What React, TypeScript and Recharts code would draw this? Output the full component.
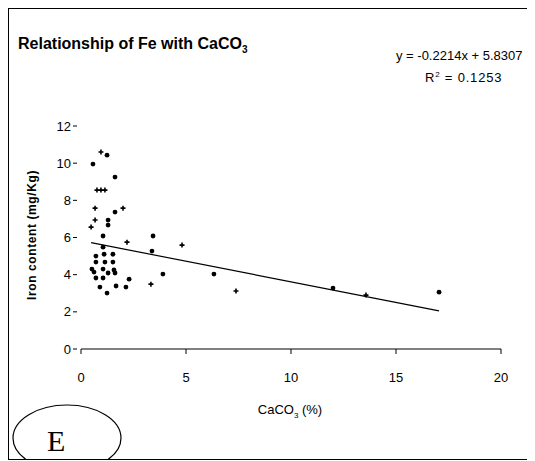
import React from "react";
import { ScatterChart, Scatter, XAxis, YAxis } from "recharts";

// CaCO3 (%) vs Fe (mg/Kg)
const dotX = [1.24, 0.57, 1.62, 1.62, 1.29, 1.29, 1.05, 3.43, 1.05, 3.38, 0.71, 1.1, 1.52, 1.14, 1.52, 0.71, 0.52, 0.62, 1.05, 1.57, 1.29, 1.62, 0.71, 1.05, 2.29, 0.9, 1.24, 1.67, 2.14, 3.9, 6.33, 12.0, 17.05];
const dotY = [10.43, 9.95, 9.25, 7.37, 6.94, 6.67, 6.08, 6.08, 5.48, 5.27, 5.0, 5.1, 5.1, 4.68, 4.68, 4.68, 4.3, 4.14, 4.3, 4.25, 4.09, 4.09, 3.82, 3.82, 3.76, 3.33, 3.01, 3.39, 3.33, 4.03, 4.03, 3.28, 3.06];
const plusX = [0.95, 0.76, 0.95, 1.14, 0.67, 2.0, 0.67, 0.48, 2.19, 4.81, 3.33, 7.38, 13.57];
const plusY = [10.6, 8.55, 8.55, 8.55, 7.58, 7.58, 6.94, 6.56, 5.75, 5.59, 3.49, 3.12, 2.9];

const xTicks = [0, 5, 10, 15, 20];
const yTicks = [0, 2, 4, 6, 8, 10, 12];

// linear trend from the chart: y = -0.2214x + 5.8307
const slope = -0.2214;
const intercept = 5.8307;

const dots = dotX.map((x, i) => ({ x, y: dotY[i] }));
const pluses = plusX.map((x, i) => ({ x, y: plusY[i] }));
const allX = [...dotX, ...plusX];
const trend = [Math.min(...allX), Math.max(...allX)].map((x) => ({ x, y: slope * x + intercept }));

const FONT = "'Liberation Sans', Arial, sans-serif";

const DotShape = (p: any) => <circle cx={p.cx} cy={p.cy} r={2.4} fill="#000" />;
const PlusShape = (p: any) => (
  <path
    d={`M${p.cx - 2.5},${p.cy}H${p.cx + 2.5}M${p.cx},${p.cy - 2.5}V${p.cy + 2.5}`}
    stroke="#000"
    strokeWidth={1.6}
  />
);

const YTick = (p: any) => {
  const { x, y, payload } = p;
  return (
    <g>
      <text x={x - 10} y={y} dy="0.35em" textAnchor="end" fontSize={13} fill="#000" fontFamily={FONT}>
        {payload.value}
      </text>
      <line x1={x - 8} x2={x - 4} y1={y} y2={y} stroke="#000" strokeWidth={1} />
    </g>
  );
};

export default function App() {
  return (
    <div
      style={{
        position: "relative",
        width: 525,
        height: 452,
        border: "1px solid #000",
        boxSizing: "border-box",
        background: "#fff",
        fontFamily: FONT,
        overflow: "hidden",
      }}
    >
      <ScatterChart width={523} height={450} margin={{ top: 117, right: 31, left: 22, bottom: 80 }}>
        <XAxis
          type="number"
          dataKey="x"
          domain={[0, 20]}
          ticks={xTicks}
          stroke="#000"
          tickSize={5}
          tickMargin={19}
          height={30}
          tick={{ fill: "#000", fontSize: 13, fontFamily: FONT }}
        />
        <YAxis
          type="number"
          dataKey="y"
          domain={[0, 12]}
          ticks={yTicks}
          axisLine={false}
          tickLine={false}
          tickSize={0}
          tickMargin={0}
          width={50}
          tick={<YTick />}
        />
        <Scatter data={dots} shape={<DotShape />} isAnimationActive={false} />
        <Scatter data={pluses} shape={<PlusShape />} isAnimationActive={false} />
        <Scatter
          data={trend}
          line={{ stroke: "#000", strokeWidth: 1.2 }}
          shape={() => <g />}
          isAnimationActive={false}
        />
      </ScatterChart>

      <div style={{ position: "absolute", left: 9, top: 26, fontSize: 16, fontWeight: "bold", whiteSpace: "nowrap" }}>
        Relationship of Fe with CaCO<sub style={{ fontSize: 10 }}>3</sub>
      </div>
      <div style={{ position: "absolute", left: 387, top: 39, fontSize: 13, whiteSpace: "nowrap" }}>
        y = -0.2214x + 5.8307
      </div>
      <div style={{ position: "absolute", left: 416, top: 61, fontSize: 13, letterSpacing: 0.8, whiteSpace: "nowrap" }}>
        R<sup style={{ fontSize: 8 }}>2</sup> = 0.1253
      </div>
      <div
        style={{
          position: "absolute",
          left: 23,
          top: 226,
          fontSize: 12,
          fontWeight: "bold",
          whiteSpace: "nowrap",
          transform: "translate(-50%, -50%) rotate(-90deg)",
          letterSpacing: 0.6,
        }}
      >
        Iron content (mg/Kg)
      </div>
      <div style={{ position: "absolute", left: 281, top: 393, fontSize: 13, whiteSpace: "nowrap", transform: "translateX(-50%)" }}>
        CaCO<sub style={{ fontSize: 8 }}>3</sub> (%)
      </div>
      <svg style={{ position: "absolute", left: 0, top: 0 }} width={523} height={450}>
        <ellipse cx={58} cy={429} rx={54} ry={33} fill="none" stroke="#000" strokeWidth={1.2} />
        <text x={38} y={442} fontSize={30} fontFamily="'Liberation Serif', 'Times New Roman', serif" fill="#000">
          E
        </text>
      </svg>
    </div>
  );
}
